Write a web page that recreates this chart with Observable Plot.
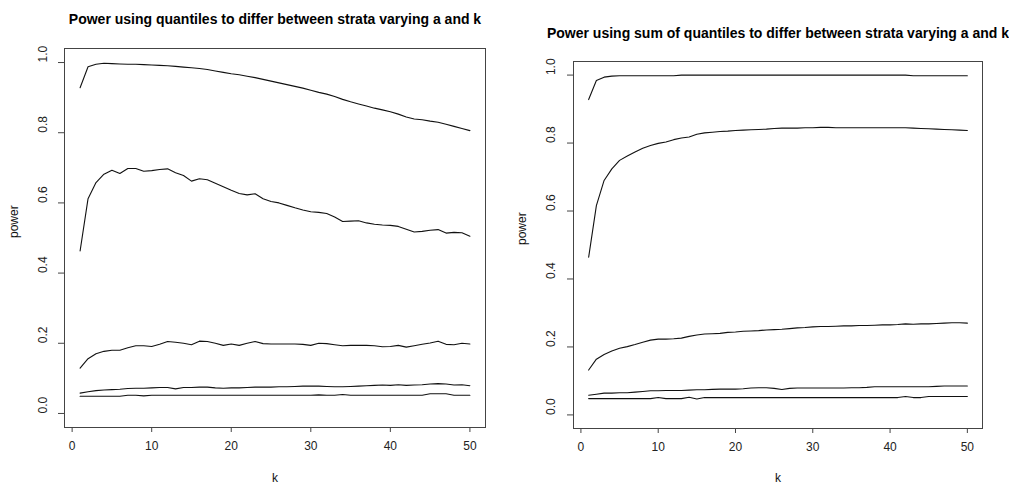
<!DOCTYPE html>
<html>
<head>
<meta charset="utf-8">
<script src="https://cdn.jsdelivr.net/npm/d3@7"></script>
<script src="https://cdn.jsdelivr.net/npm/@observablehq/plot@0.6"></script>
<style>
  body { margin: 0; background: #fff; }
  #wrap { position: relative; width: 1009px; height: 483px; font-family: "Liberation Sans", Arial, sans-serif; }
  #wrap svg { position: absolute; top: 0; }
</style>
</head>
<body>
<div id="wrap"></div>
<script>
const kValues = [1,2,3,4,5,6,7,8,9,10,11,12,13,14,15,16,17,18,19,20,21,22,23,24,25,26,27,28,29,30,31,32,33,34,35,36,37,38,39,40,41,42,43,44,45,46,47,48,49,50];
const xTicks = [0, 10, 20, 30, 40, 50];
const yTicks = [0.0, 0.2, 0.4, 0.6, 0.8, 1.0];

const titleLeft = "Power using quantiles to differ between strata varying a and k";
const titleRight = "Power using sum of quantiles to differ between strata varying a and k";
const xLabel = "k";
const yLabel = "power";

// Left panel: quantiles
const left1 = [0.928,0.988,0.995,0.998,0.997,0.996,0.995,0.995,0.994,0.993,0.992,0.991,0.989,0.987,0.985,0.983,0.980,0.976,0.972,0.968,0.965,0.961,0.957,0.952,0.947,0.942,0.937,0.932,0.927,0.921,0.915,0.910,0.903,0.895,0.888,0.882,0.876,0.870,0.865,0.860,0.853,0.845,0.839,0.837,0.833,0.830,0.824,0.818,0.812,0.806];
const left2 = [0.463,0.612,0.658,0.682,0.693,0.684,0.698,0.698,0.690,0.692,0.695,0.697,0.686,0.678,0.662,0.669,0.666,0.656,0.646,0.636,0.627,0.623,0.626,0.612,0.604,0.600,0.593,0.586,0.580,0.575,0.573,0.570,0.560,0.547,0.548,0.549,0.543,0.539,0.537,0.536,0.533,0.525,0.517,0.519,0.522,0.524,0.514,0.516,0.515,0.505];
const left3 = [0.129,0.156,0.170,0.177,0.180,0.180,0.187,0.193,0.193,0.191,0.197,0.205,0.203,0.200,0.196,0.206,0.205,0.200,0.194,0.198,0.194,0.200,0.205,0.199,0.198,0.198,0.198,0.198,0.197,0.194,0.200,0.199,0.196,0.193,0.194,0.194,0.194,0.193,0.190,0.191,0.194,0.189,0.193,0.197,0.201,0.206,0.197,0.196,0.200,0.198];
const left4 = [0.058,0.062,0.065,0.067,0.068,0.069,0.071,0.072,0.072,0.073,0.074,0.074,0.070,0.074,0.074,0.075,0.075,0.073,0.072,0.073,0.073,0.074,0.075,0.075,0.075,0.076,0.076,0.077,0.078,0.078,0.078,0.077,0.076,0.076,0.077,0.078,0.079,0.080,0.081,0.080,0.082,0.080,0.081,0.082,0.084,0.085,0.084,0.081,0.082,0.079];
const left5 = [0.049,0.049,0.049,0.049,0.049,0.049,0.052,0.052,0.050,0.052,0.052,0.052,0.052,0.052,0.052,0.052,0.052,0.052,0.052,0.052,0.052,0.052,0.052,0.052,0.052,0.052,0.052,0.052,0.052,0.052,0.053,0.052,0.052,0.054,0.052,0.052,0.052,0.052,0.052,0.052,0.052,0.052,0.052,0.052,0.056,0.056,0.056,0.052,0.052,0.052];

// Right panel: sum of quantiles
const right1 = [0.928,0.984,0.994,0.997,0.998,0.998,0.998,0.998,0.998,0.998,0.998,0.998,1.000,1.000,1.000,1.000,1.000,1.000,1.000,1.000,1.000,1.000,1.000,1.000,1.000,1.000,1.000,1.000,1.000,1.000,1.000,1.000,1.000,1.000,1.000,1.000,1.000,1.000,1.000,1.000,1.000,1.000,0.998,0.998,0.998,0.998,0.998,0.998,0.998,0.998];
const right2 = [0.464,0.616,0.690,0.724,0.749,0.762,0.774,0.785,0.793,0.799,0.803,0.810,0.815,0.818,0.826,0.830,0.832,0.834,0.835,0.837,0.838,0.839,0.840,0.841,0.843,0.844,0.844,0.844,0.845,0.845,0.846,0.846,0.845,0.845,0.845,0.845,0.845,0.845,0.845,0.845,0.845,0.845,0.844,0.843,0.842,0.841,0.840,0.839,0.838,0.837];
const right3 = [0.132,0.164,0.178,0.188,0.196,0.201,0.207,0.214,0.220,0.223,0.223,0.224,0.226,0.231,0.235,0.238,0.239,0.240,0.243,0.244,0.246,0.247,0.248,0.250,0.251,0.252,0.254,0.256,0.257,0.259,0.260,0.260,0.261,0.262,0.262,0.263,0.263,0.264,0.265,0.265,0.266,0.268,0.267,0.268,0.268,0.269,0.270,0.271,0.271,0.270];
const right4 = [0.058,0.061,0.064,0.064,0.065,0.065,0.067,0.069,0.071,0.071,0.072,0.072,0.072,0.073,0.074,0.074,0.075,0.076,0.076,0.076,0.077,0.079,0.080,0.080,0.078,0.075,0.078,0.079,0.079,0.079,0.079,0.079,0.079,0.079,0.080,0.080,0.081,0.083,0.083,0.083,0.083,0.083,0.083,0.083,0.083,0.084,0.085,0.085,0.085,0.085];
const right5 = [0.048,0.048,0.048,0.048,0.048,0.048,0.048,0.048,0.048,0.051,0.048,0.048,0.048,0.052,0.047,0.051,0.051,0.051,0.051,0.051,0.051,0.051,0.051,0.051,0.051,0.051,0.051,0.051,0.051,0.051,0.051,0.051,0.051,0.051,0.051,0.051,0.051,0.051,0.051,0.051,0.051,0.054,0.051,0.051,0.054,0.054,0.054,0.054,0.054,0.054];

function toRows(seriesList) {
  const rows = [];
  seriesList.forEach((vals, s) => vals.forEach((v, i) => rows.push({k: kValues[i], power: v, series: s})));
  return rows;
}

const FONT = '"Liberation Sans", Arial, sans-serif';

function panel(cfg) {
  const rows = toRows(cfg.series);
  const chart = Plot.plot({
    width: cfg.width,
    height: 483,
    marginLeft: cfg.ml,
    marginRight: cfg.mr,
    marginTop: cfg.mt,
    marginBottom: cfg.mb,
    style: {fontFamily: FONT, background: "white", overflow: "visible"},
    x: {domain: [-0.96, 51.96]},
    y: {domain: [-0.04, 1.04]},
    marks: [
      Plot.frame({stroke: "#444", strokeWidth: 1}),
      Plot.axisX({ticks: xTicks, tickSize: 5, tickFormat: () => "", label: null, stroke: "#444"}),
      Plot.axisY({ticks: yTicks, tickSize: 6, tickFormat: () => "", label: null, stroke: "#444"}),
      Plot.text(xTicks, {x: d => d, text: d => String(d), frameAnchor: "bottom", dy: cfg.xTickDy, fontSize: 12, fill: "#222"}),
      Plot.text(yTicks, {y: d => d, text: d => d.toFixed(1), frameAnchor: "left", dx: cfg.yTickDx, rotate: -90, fontSize: 12, fill: "#222"}),
      Plot.line(rows, {x: "k", y: "power", z: "series", stroke: "#111", strokeWidth: 1.1}),
      Plot.text([cfg.title], {frameAnchor: "top", lineAnchor: "bottom", dy: cfg.titleDy, fontSize: 14, fontWeight: "bold", fill: "#000"}),
      Plot.text([xLabel], {frameAnchor: "bottom", lineAnchor: "bottom", dy: cfg.xLabDy, fontSize: 12, fill: "#111"}),
      Plot.text([yLabel], {frameAnchor: "left", dx: cfg.yLabDx, rotate: -90, fontSize: 12, fill: "#111"})
    ]
  });
  chart.style.left = cfg.left + "px";
  document.getElementById("wrap").appendChild(chart);
}

panel({
  left: 0, width: 500, ml: 64, mr: 15, mt: 48, mb: 56,
  series: [left1, left2, left3, left4, left5], title: titleLeft,
  xTickDy: 22, yTickDx: -21, titleDy: -25, xLabDy: 54, yLabDx: -50
});
panel({
  left: 500, width: 509, ml: 73, mr: 27, mt: 61, mb: 55,
  series: [right1, right2, right3, right4, right5], title: titleRight,
  xTickDy: 22, yTickDx: -22, titleDy: -24, xLabDy: 53, yLabDx: -51
});
</script>
</body>
</html>
